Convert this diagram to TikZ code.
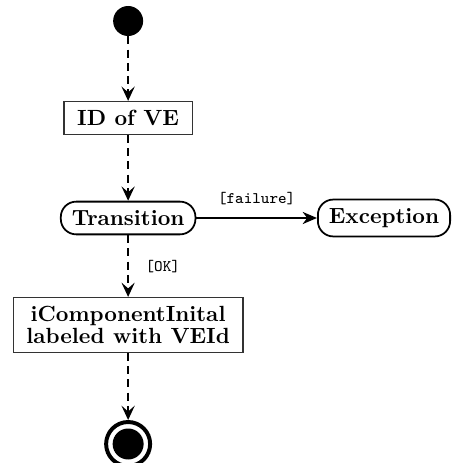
\documentclass[tikz,border=0pt]{standalone}
\usetikzlibrary{arrows.meta,positioning}

\tikzset{
  action/.style={draw=black!80,line width=0.5pt,inner xsep=6pt,inner ysep=4pt,font=\bfseries,align=center},
  state/.style={draw,line width=0.8pt,rounded corners=7pt,inner xsep=5pt,inner ysep=4pt,font=\bfseries},
  flow/.style={line width=0.9pt,dash pattern=on 3.6pt off 2.4pt,-{Stealth[length=6.5pt,width=6pt,inset=2.6pt]}},
  fail/.style={line width=0.8pt,-{Stealth[length=6.5pt,width=5.5pt,inset=2pt]}},
  guard/.style={font=\ttfamily\scriptsize,scale=1.05}
}

\begin{document}
\begin{tikzpicture}
\useasboundingbox (0,0) rectangle (7.216,-7.408);

\coordinate (c0) at (2.05,-0.336);
\coordinate (c1) at (2.05,-1.888);
\coordinate (c2) at (2.05,-3.488);
\coordinate (c3) at (6.144,-3.488);
\coordinate (c4) at (2.05,-5.2);
\coordinate (c5) at (2.05,-7.104);

\node (init) at (c0) [circle,fill=black,minimum size=0.48cm,inner sep=0pt] {};
\node (idve) at (c1) [action] {ID of VE};
\node (trans) at (c2) [state] {Transition};
\node (exc) at (c3) [state] {Exception};
\node (comp) at (c4) [action] {iComponentInital\\[-2pt]labeled with VEId};
\node (final) at (c5) [circle,draw,line width=1.8pt,minimum size=0.704cm,inner sep=0pt] {};
\fill (final) circle (0.248cm);

\draw[flow] (init) -- (idve);
\draw[flow] (idve) -- (trans);
\draw[fail] (trans) -- node[guard,above=2pt] {[failure]} (exc);
\draw[flow] (trans) -- node[guard,right=4pt] {[OK]} (comp);
\draw[flow] (comp) -- (final);
\end{tikzpicture}
\end{document}
